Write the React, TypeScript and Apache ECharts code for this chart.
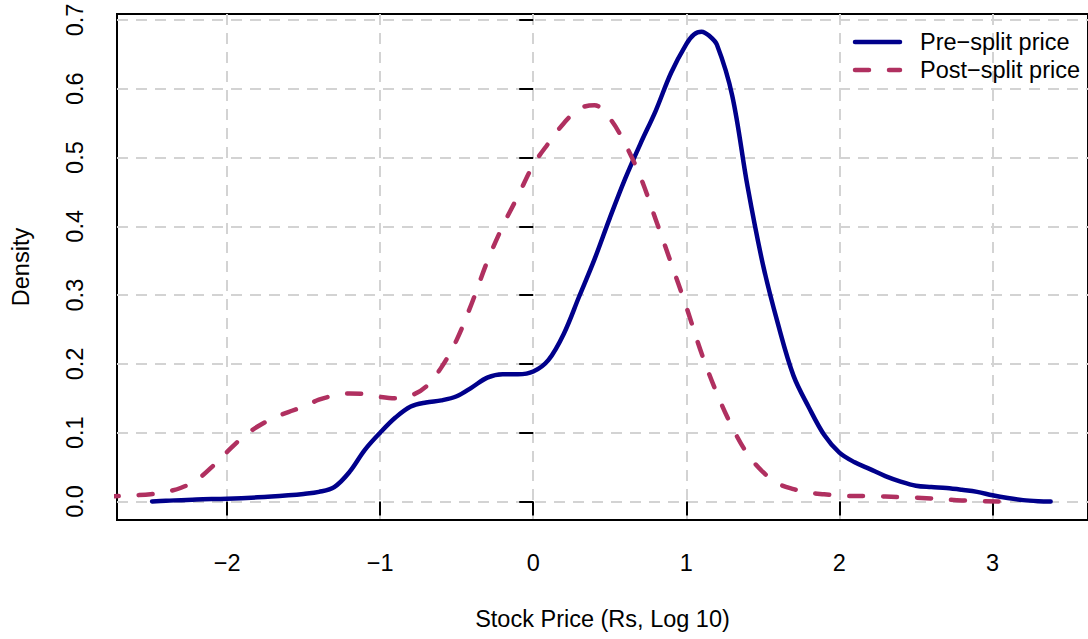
import React, { useEffect, useRef } from "react";
import * as echarts from "echarts";

const preName = "Pre\u2212split price";
const postName = "Post\u2212split price";

const preX = [-2.49, -2.4, -2.2, -2.0, -1.8, -1.6, -1.5, -1.4, -1.3, -1.2, -1.1, -1.0, -0.9, -0.8, -0.7, -0.6, -0.5, -0.4, -0.3, -0.2, -0.1, 0.0, 0.1, 0.2, 0.3, 0.4, 0.5, 0.6, 0.7, 0.8, 0.9, 1.0, 1.05, 1.1, 1.15, 1.2, 1.3, 1.4, 1.5, 1.6, 1.7, 1.8, 1.9, 2.0, 2.1, 2.2, 2.3, 2.4, 2.5, 2.6, 2.7, 2.8, 2.9, 3.0, 3.1, 3.2, 3.3, 3.38];
const preY = [0.0, 0.001, 0.003, 0.004, 0.006, 0.009, 0.011, 0.014, 0.021, 0.043, 0.075, 0.1, 0.122, 0.138, 0.144, 0.147, 0.153, 0.166, 0.18, 0.185, 0.185, 0.189, 0.206, 0.244, 0.298, 0.352, 0.412, 0.469, 0.52, 0.568, 0.623, 0.665, 0.679, 0.683, 0.677, 0.664, 0.59, 0.458, 0.345, 0.257, 0.183, 0.137, 0.097, 0.071, 0.057, 0.047, 0.037, 0.029, 0.023, 0.021, 0.0195, 0.017, 0.014, 0.009, 0.005, 0.002, 0.0005, 0.0];

const postX = [-2.8, -2.7, -2.6, -2.5, -2.4, -2.3, -2.2, -2.1, -2.0, -1.9, -1.8, -1.7, -1.6, -1.5, -1.4, -1.3, -1.2, -1.1, -1.0, -0.9, -0.8, -0.7, -0.6, -0.5, -0.4, -0.3, -0.2, -0.1, 0.0, 0.1, 0.2, 0.3, 0.4, 0.5, 0.6, 0.7, 0.8, 0.9, 1.0, 1.1, 1.2, 1.3, 1.4, 1.5, 1.6, 1.7, 1.8, 1.9, 2.0, 2.2, 2.4, 2.6, 2.8, 3.04];
const postY = [0.007, 0.008, 0.009, 0.0105, 0.014, 0.02, 0.031, 0.05, 0.072, 0.093, 0.109, 0.121, 0.13, 0.138, 0.148, 0.154, 0.157, 0.156, 0.152, 0.15, 0.154, 0.167, 0.195, 0.235, 0.289, 0.349, 0.4, 0.444, 0.489, 0.521, 0.55, 0.571, 0.576, 0.557, 0.52, 0.472, 0.41, 0.347, 0.283, 0.215, 0.157, 0.108, 0.069, 0.043, 0.026, 0.018, 0.013, 0.0105, 0.0085, 0.0078, 0.0063, 0.0045, 0.0015, 0.0];

const xTicks = [-2, -1, 0, 1, 2, 3];
const yTicks = [0, 0.1, 0.2, 0.3, 0.4, 0.5, 0.6, 0.7];

const xTitle = "Stock Price (Rs, Log 10)";
const yTitle = "Density";

const FONT = "'Liberation Sans', Arial, Helvetica, sans-serif";
const FS = 23.5;
const PRE_COLOR = "#00008B";
const POST_COLOR = "#B03060";
const POST_DASH = [14, 20];

export default function App() {
  const ref = useRef<HTMLDivElement>(null);
  useEffect(() => {
    if (!ref.current) return;
    const chart = echarts.init(ref.current, null, { renderer: "svg" });
    const pre = preX.map((x, i) => [x, preY[i]]);
    const post = postX.map((x, i) => [x, postY[i]]);
    const gridLine = { show: true, lineStyle: { color: "#d3d3d3", width: 2, type: [11, 8] as any } };
    const legendEntries = [
      { name: preName, color: PRE_COLOR, dash: null as any, y: 42 },
      { name: postName, color: POST_COLOR, dash: POST_DASH, y: 70 },
    ];
    const legendGraphics: any[] = [];
    legendEntries.forEach((e) => {
      legendGraphics.push({
        type: "line",
        shape: { x1: 855, y1: e.y, x2: 900, y2: e.y },
        style: { stroke: e.color, lineWidth: 4.5, lineCap: "round", lineDash: e.dash || undefined },
        z: 10,
      });
      legendGraphics.push({
        type: "text",
        x: 920,
        y: e.y,
        style: {
          text: e.name,
          fontSize: FS,
          fontFamily: FONT,
          fill: "#000",
          verticalAlign: "middle",
          align: "left",
          lineHeight: 24,
        },
        z: 10,
      });
    });
    chart.setOption({
      animation: false,
      backgroundColor: "#ffffff",
      textStyle: { fontFamily: FONT },
      grid: {
        left: 117,
        top: 14,
        right: -2,
        bottom: 119,
        show: true,
        borderColor: "#000",
        borderWidth: 2,
        backgroundColor: "transparent",
      },
      graphic: legendGraphics,
      xAxis: {
        type: "value",
        min: -2.719,
        max: 3.624,
        splitNumber: 6,
        z: 3,
        axisLine: { show: false },
        axisTick: { show: true, customValues: xTicks, length: 14, lineStyle: { color: "#000", width: 2 } },
        axisLabel: {
          customValues: xTicks,
          fontSize: FS,
          color: "#000",
          fontFamily: FONT,
          margin: 43,
          verticalAlign: "middle",
          formatter: (v: number) => (v < 0 ? "\u2212" + Math.abs(v) : String(v)),
        },
        splitLine: gridLine,
        name: xTitle,
        nameLocation: "middle",
        nameGap: 99,
        nameTextStyle: { fontSize: FS, color: "#000", fontFamily: FONT, verticalAlign: "middle" },
      },
      yAxis: {
        type: "value",
        min: -0.0269,
        max: 0.7087,
        splitNumber: 7,
        z: 3,
        axisLine: { show: false },
        axisTick: { show: true, customValues: yTicks, length: 14, lineStyle: { color: "#000", width: 2 } },
        axisLabel: {
          customValues: yTicks,
          fontSize: FS,
          color: "#000",
          fontFamily: FONT,
          rotate: 90,
          margin: 42,
          align: "center",
          verticalAlign: "middle",
          formatter: (v: number) => v.toFixed(1),
        },
        splitLine: gridLine,
        name: yTitle,
        nameLocation: "middle",
        nameGap: 96,
        nameRotate: 90,
        nameTextStyle: { fontSize: FS, color: "#000", fontFamily: FONT, verticalAlign: "middle", align: "center" },
      },
      series: [
        {
          name: preName,
          type: "line",
          data: pre,
          smooth: 0.35,
          symbol: "none",
          clip: true,
          lineStyle: { color: PRE_COLOR, width: 4.5, cap: "round", join: "round" },
          itemStyle: { color: PRE_COLOR },
        },
        {
          name: postName,
          type: "line",
          data: post,
          smooth: 0.35,
          symbol: "none",
          clip: true,
          lineStyle: { color: POST_COLOR, width: 4.5, type: POST_DASH as any, cap: "round", join: "round" },
          itemStyle: { color: POST_COLOR },
        },
      ],
    });
    return () => chart.dispose();
  }, []);
  return (
    <div
      ref={ref}
      style={{ position: "fixed", left: 0, top: 0, width: 1088, height: 639, background: "#fff" }}
    />
  );
}
